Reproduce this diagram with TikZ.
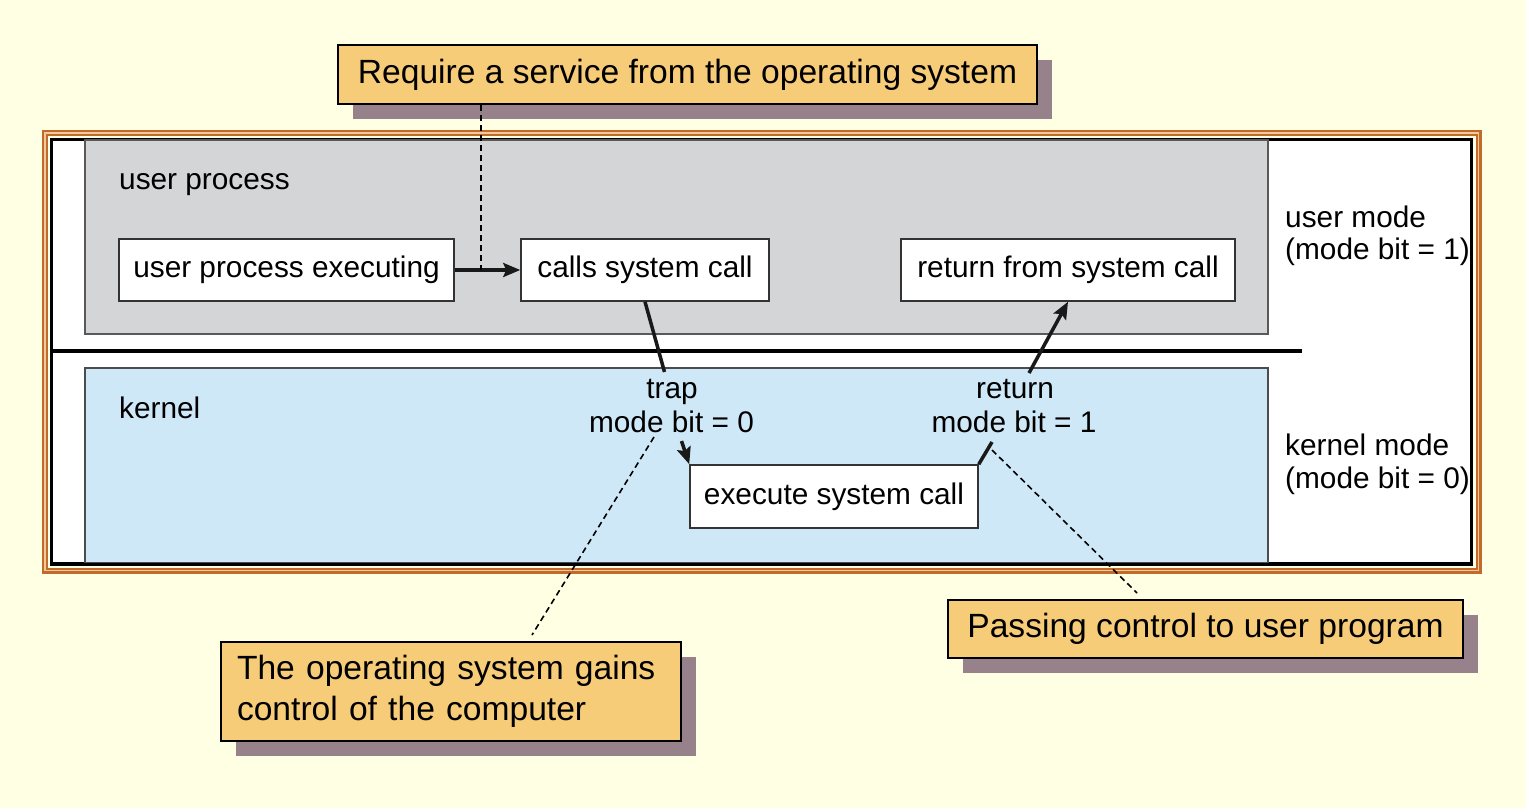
\documentclass[tikz,border=0pt]{standalone}
\usepackage{fontspec}
\setmainfont{Liberation Sans}
\usetikzlibrary{arrows.meta,calc}
\definecolor{bgc}{HTML}{FFFFE4}
\definecolor{framec}{HTML}{C46A28}
\definecolor{peachc}{HTML}{EFC9A2}
\definecolor{userc}{HTML}{D4D5D6}
\definecolor{kernc}{HTML}{CFE8F7}
\definecolor{calc}{HTML}{F6CC78}
\definecolor{shadc}{HTML}{97828B}
\tikzset{
  dfont/.style={font=\fontsize{29.8pt}{33pt}\selectfont},
  cfont/.style={font=\fontsize{33.6pt}{41pt}\selectfont},
  wbox/.style={draw=black!80, fill=white, line width=1.5pt, inner sep=0pt, minimum height=62pt, dfont},
  lbl/.style={inner sep=0pt, dfont},
  callout/.style={draw=black, fill=calc, line width=2.5pt, inner sep=0pt, cfont},
  shadowbox/.style={fill=shadc, draw=none},
  flow/.style={line width=3.5pt, draw=black!90},
  flowarrow/.style={flow, -{Stealth[length=17pt,width=14pt,inset=3pt]}},
  note/.style={draw=black, line width=1.6pt, dash pattern=on 6pt off 4pt},
}
\begin{document}
\begin{tikzpicture}[x=1pt,y=-1pt]
\useasboundingbox (0,0) rectangle (1526,808);
\fill[bgc] (0,0) rectangle (1526,808);
% frame
\draw[framec, line width=6pt] (45,133) rectangle (1478.5,570.5);
\draw[peachc, line width=1.8pt] (45,133) rectangle (1478.5,570.5);
\draw[black, line width=3.5pt, fill=white] (51.5,139.5) rectangle (1471.5,564);
% regions
\draw[fill=userc, draw=black!65, line width=1.2pt] (85,140) rectangle (1268,334);
\draw[fill=kernc, draw=black!70, line width=1.2pt] (85,368) rectangle (1268,562.5);
\draw[black, line width=3.2pt] (51.5,351) -- (1302,351);
% labels
\node[lbl, anchor=base west] (uplbl) at (119,189) {user process};
\node[lbl, anchor=base west] (klbl) at (119,418) {kernel};
\node[lbl, anchor=base west] (um1) at (1285,227) {user mode};
\node[lbl, anchor=base west] (um2) at (1285,259) {(mode bit = 1)};
\node[lbl, anchor=base west] (km1) at (1285,455) {kernel mode};
\node[lbl, anchor=base west] (km2) at (1285,488) {(mode bit = 0)};
\node[lbl, anchor=base] (trap1) at (672,398) {trap};
\node[lbl, anchor=base] (trap2) at (671.5,432) {mode bit = 0};
\node[lbl, anchor=base] (ret1) at (1015,398) {return};
\node[lbl, anchor=base] (ret2) at (1014,432) {mode bit = 1};
% boxes
\node[wbox, minimum width=335pt] (upe) at (286.5,270) {user process executing};
\node[wbox, minimum width=248pt] (csc) at (645,270) {calls system call};
\node[wbox, minimum width=334pt] (rsc) at (1068,270) {return from system call};
\node[wbox, minimum width=288pt, minimum height=63pt] (esc) at (834,496.5) {execute system call};
% flow
\coordinate (trapA) at (664.5,372);
\coordinate (trapB) at (681.5,441);
\coordinate (retA) at (992,442);
\coordinate (retB) at (1029,373);
\draw[flowarrow] (upe.east) -- (csc.west);
\draw[flow] (csc.south) -- (trapA);
\draw[flowarrow] (trapB) -- (esc.north west);
\draw[flow] (esc.north east) -- (retA);
\draw[flowarrow] (retB) -- (rsc.south);
% callouts
\fill[shadowbox] (353,60) rectangle (1052,119);
\node[callout, minimum width=699pt, minimum height=59pt] (req) at (687.5,74.5) {Require a service from the operating system};
\fill[shadowbox] (236,657) rectangle (696,756);
\node[callout, text width=428pt, align=left, inner xsep=16pt, minimum height=99pt] (gain) at (451,691.5) {The operating system gains\\control of the computer};
\fill[shadowbox] (963,615) rectangle (1478,673);
\node[callout, minimum width=515pt, minimum height=58pt] (pass) at (1205.5,629) {Passing control to user program};
% notes
\coordinate (d1) at (481,270);
\coordinate (d2a) at (654,437);
\coordinate (d2b) at (532,635);
\coordinate (d3a) at (992,450);
\coordinate (d3b) at (1137,593);
\draw[note] (d1 |- req.south) -- (d1);
\draw[note] (d2a) -- (d2b);
\draw[note] (d3a) -- (d3b);
\end{tikzpicture}
\end{document}
